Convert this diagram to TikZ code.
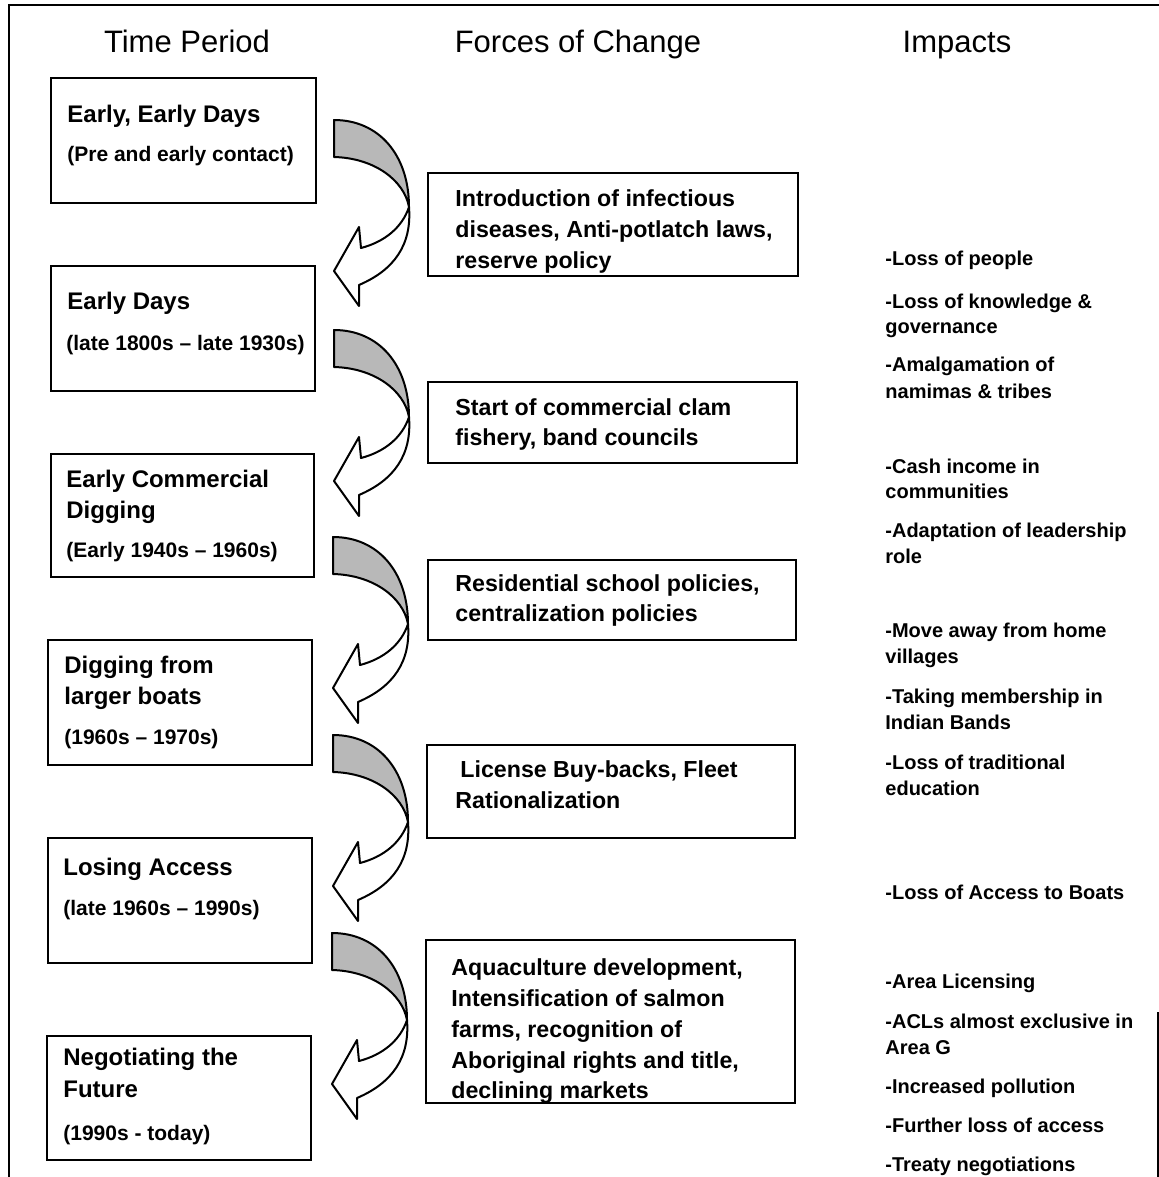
\documentclass[tikz,border=0pt]{standalone}
\usepackage{fontspec}
\setmainfont{Liberation Sans}
\usetikzlibrary{fit}
\tikzset{
  box/.style={draw, line width=1.2pt, inner sep=0pt, fill=white},
  hdr/.style={font=\fontsize{15.5}{18}\selectfont, inner sep=0pt, anchor=base},
  ttl/.style={font=\bfseries\fontsize{12}{14}\selectfont, inner sep=0pt, anchor=base west},
  sub/.style={font=\bfseries\fontsize{10.5}{12}\selectfont, inner sep=0pt, anchor=base west},
  mid/.style={font=\bfseries\fontsize{11.6}{14}\selectfont, inner sep=0pt, anchor=base west},
  imp/.style={font=\bfseries\fontsize{10}{12}\selectfont, inner sep=0pt, anchor=base west},
  frame/.style={line width=1pt},
  arrline/.style={line width=1pt, line join=round},
  shade/.style={arrline, fill=black!28},
  whitepart/.style={arrline, fill=white}
}
\newcommand{\turnarrow}[2]{%
  \begin{scope}[shift={(#1,#2)}]
    \draw[shade] (0,0) .. controls (45,0) and (75,35) .. (75,87)
      .. controls (70,60) and (40,38) .. (0,37) -- cycle;
    \draw[whitepart] (75,87) .. controls (68,108) and (50,122) .. (27,128)
      -- (25,107) -- (0,151) -- (25,186) -- (25,165)
      .. controls (60,150) and (78,125) .. (75,87) -- cycle;
  \end{scope}}
\begin{document}
\begin{tikzpicture}[x=0.5pt, y=-0.5pt]
\useasboundingbox (0,0) rectangle (1159,1177);
% outer frame
\draw[frame] (9,1177) -- (9,5) -- (1159,5);
\draw[frame] (1158,1012) -- (1158,1177);
% headers
\node[hdr] (h1) at (187,53) {Time Period};
\node[hdr] (h2) at (578,53) {Forces of Change};
\node[hdr] (h3) at (957,53) {Impacts};
% left boxes
\node[box, fit={(51,78)(316,203)}] (b1) {};
\node[box, fit={(51,266)(315,391)}] (b2) {};
\node[box, fit={(51,454)(314,577)}] (b3) {};
\node[box, fit={(48,640)(312,765)}] (b4) {};
\node[box, fit={(48,838)(312,963)}] (b5) {};
\node[box, fit={(47,1036)(311,1160)}] (b6) {};
\node[ttl] (b1a) at (67,122) {Early, Early Days};
\node[sub] (b1b) at (67,162) {(Pre and early contact)};
\node[ttl] (b2a) at (67,309) {Early Days};
\node[sub] (b2b) at (66,350) {(late 1800s \textendash\ late 1930s)};
\node[ttl] (b3a) at (66,487) {Early Commercial};
\node[ttl] (b3b) at (66,518) {Digging};
\node[sub] (b3c) at (66,557) {(Early 1940s \textendash\ 1960s)};
\node[ttl] (b4a) at (64,673) {Digging from};
\node[ttl] (b4b) at (64,704) {larger boats};
\node[sub] (b4c) at (64,744) {(1960s \textendash\ 1970s)};
\node[ttl] (b5a) at (63,875) {Losing Access};
\node[sub] (b5b) at (63,915) {(late 1960s \textendash\ 1990s)};
\node[ttl] (b6a) at (63,1065) {Negotiating the};
\node[ttl] (b6b) at (63,1097) {Future};
\node[sub] (b6c) at (63,1140) {(1990s - today)};
% middle boxes
\node[box, fit={(428,173)(798,276)}] (m1) {};
\node[box, fit={(428,382)(797,463)}] (m2) {};
\node[box, fit={(428,560)(796,640)}] (m3) {};
\node[box, fit={(427,745)(795,838)}] (m4) {};
\node[box, fit={(426,940)(795,1103)}] (m5) {};
\node[mid] (m1a) at (455,206) {Introduction of infectious};
\node[mid] (m1b) at (455,237) {diseases, Anti-potlatch laws,};
\node[mid] (m1c) at (455,268) {reserve policy};
\node[mid] (m2a) at (455,415) {Start of commercial clam};
\node[mid] (m2b) at (455,445) {fishery, band councils};
\node[mid] (m3a) at (455,591) {Residential school policies,};
\node[mid] (m3b) at (455,621) {centralization policies};
\node[mid] (m4a) at (460,777) {License Buy-backs, Fleet};
\node[mid] (m4b) at (455,808) {Rationalization};
\node[mid] (m5a) at (451,975) {Aquaculture development,};
\node[mid] (m5b) at (451,1006) {Intensification of salmon};
\node[mid] (m5c) at (451,1037) {farms, recognition of};
\node[mid] (m5d) at (451,1068) {Aboriginal rights and title,};
\node[mid] (m5e) at (451,1098) {declining markets};
% impacts
\node[imp] (i1) at (885,265) {-Loss of people};
\node[imp] (i2a) at (885,308) {-Loss of knowledge \&};
\node[imp] (i2b) at (885,333) {governance};
\node[imp] (i3a) at (885,371) {-Amalgamation of};
\node[imp] (i3b) at (885,398) {namimas \& tribes};
\node[imp] (i4a) at (885,473) {-Cash income in};
\node[imp] (i4b) at (885,498) {communities};
\node[imp] (i5a) at (885,537) {-Adaptation of leadership};
\node[imp] (i5b) at (885,563) {role};
\node[imp] (i6a) at (885,637) {-Move away from home};
\node[imp] (i6b) at (885,663) {villages};
\node[imp] (i7a) at (885,703) {-Taking membership in};
\node[imp] (i7b) at (885,729) {Indian Bands};
\node[imp] (i8a) at (885,769) {-Loss of traditional};
\node[imp] (i8b) at (885,795) {education};
\node[imp] (i9) at (885,899) {-Loss of Access to Boats};
\node[imp] (i10) at (885,988) {-Area Licensing};
\node[imp] (i11a) at (885,1028) {-ACLs almost exclusive in};
\node[imp] (i11b) at (885,1054) {Area G};
\node[imp] (i12) at (885,1093) {-Increased pollution};
\node[imp] (i13) at (885,1132) {-Further loss of access};
\node[imp] (i14) at (885,1171) {-Treaty negotiations};
% curved arrows
\turnarrow{334}{120}
\turnarrow{334}{330}
\turnarrow{333}{537}
\turnarrow{333}{735}
\turnarrow{332}{933}
\end{tikzpicture}
\end{document}
